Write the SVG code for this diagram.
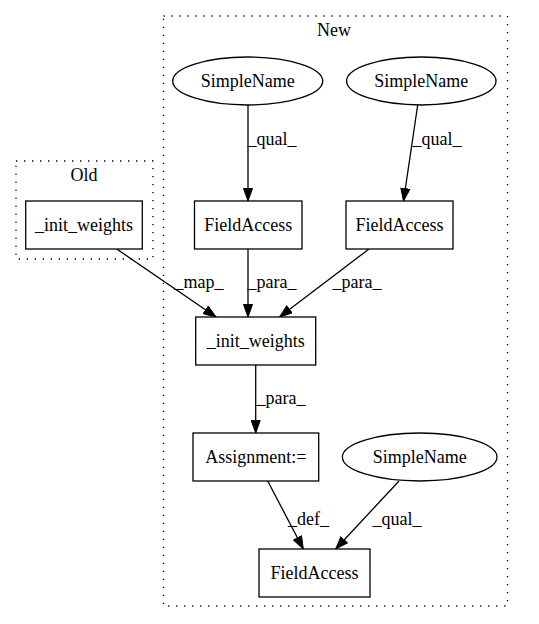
<svg xmlns="http://www.w3.org/2000/svg" width="539" height="624" viewBox="0 0 539 624">
<style>
text{font-family:"Liberation Serif","Times New Roman",serif;font-size:18px;fill:#000;text-anchor:middle}
.node{fill:#fff;stroke:#000;stroke-width:1.3}
.cluster{fill:none;stroke:#000;stroke-width:1.3;stroke-dasharray:1.3,6.7}
.edge{fill:none;stroke:#000;stroke-width:1.3}
</style>
<defs>
<marker id="arr" markerUnits="userSpaceOnUse" markerWidth="14" markerHeight="10" refX="13" refY="5" orient="auto">
<path d="M0.5,0.5 L13,5 L0.5,9.5 z" fill="#000" stroke="#000" stroke-width="1"/>
</marker>
</defs>
<rect width="539" height="624" fill="#fff"/>
<g id="cluster_old">
<rect class="cluster" x="16" y="161" width="137" height="98"/>
<text x="84" y="181">Old</text>
</g>
<g id="cluster_new">
<rect class="cluster" x="163.5" y="16" width="344" height="590"/>
<text x="334" y="36">New</text>
</g>
<g id="edges">
<line class="edge" x1="248" y1="105" x2="248" y2="201" marker-end="url(#arr)"/>
<text x="272" y="145">_qual_</text>
<line class="edge" x1="417.7" y1="105" x2="403.5" y2="201" marker-end="url(#arr)"/>
<text x="437" y="145">_qual_</text>
<line class="edge" x1="116.7" y1="249" x2="216" y2="317" marker-end="url(#arr)"/>
<text x="199" y="288">_map_</text>
<line class="edge" x1="248" y1="249" x2="248" y2="317" marker-end="url(#arr)"/>
<text x="272" y="288">_para_</text>
<line class="edge" x1="369" y1="249" x2="279.5" y2="317" marker-end="url(#arr)"/>
<text x="357" y="288">_para_</text>
<line class="edge" x1="255.7" y1="365" x2="255.7" y2="433" marker-end="url(#arr)"/>
<text x="281" y="404">_para_</text>
<line class="edge" x1="267.7" y1="481" x2="303.3" y2="549" marker-end="url(#arr)"/>
<text x="308.5" y="525">_def_</text>
<line class="edge" x1="399" y1="481" x2="335.7" y2="549" marker-end="url(#arr)"/>
<text x="397" y="525">_qual_</text>
</g>
<g id="sn1">
<ellipse class="node" cx="247.7" cy="81" rx="75" ry="24"/>
<text x="247.7" y="87">SimpleName</text>
</g>
<g id="sn2">
<ellipse class="node" cx="421.3" cy="81" rx="74.7" ry="24"/>
<text x="421.3" y="87">SimpleName</text>
</g>
<g id="fa1">
<rect class="node" x="194.5" y="201" width="107.5" height="48"/>
<text x="248.2" y="231">FieldAccess</text>
</g>
<g id="fa2">
<rect class="node" x="346" y="201" width="107" height="48"/>
<text x="399.5" y="231">FieldAccess</text>
</g>
<g id="old_init">
<rect class="node" x="25.7" y="201" width="116.6" height="48"/>
<text x="84" y="231">_init_weights</text>
</g>
<g id="new_init">
<rect class="node" x="195.7" y="317" width="120" height="48"/>
<text x="255.7" y="347">_init_weights</text>
</g>
<g id="assign">
<rect class="node" x="193" y="433" width="125.7" height="48"/>
<text x="255.8" y="463">Assignment:=</text>
</g>
<g id="sn3">
<ellipse class="node" cx="419.7" cy="457" rx="77.3" ry="24"/>
<text x="419.7" y="463">SimpleName</text>
</g>
<g id="fa3">
<rect class="node" x="259" y="549" width="111" height="48"/>
<text x="314.5" y="579">FieldAccess</text>
</g>
</svg>
